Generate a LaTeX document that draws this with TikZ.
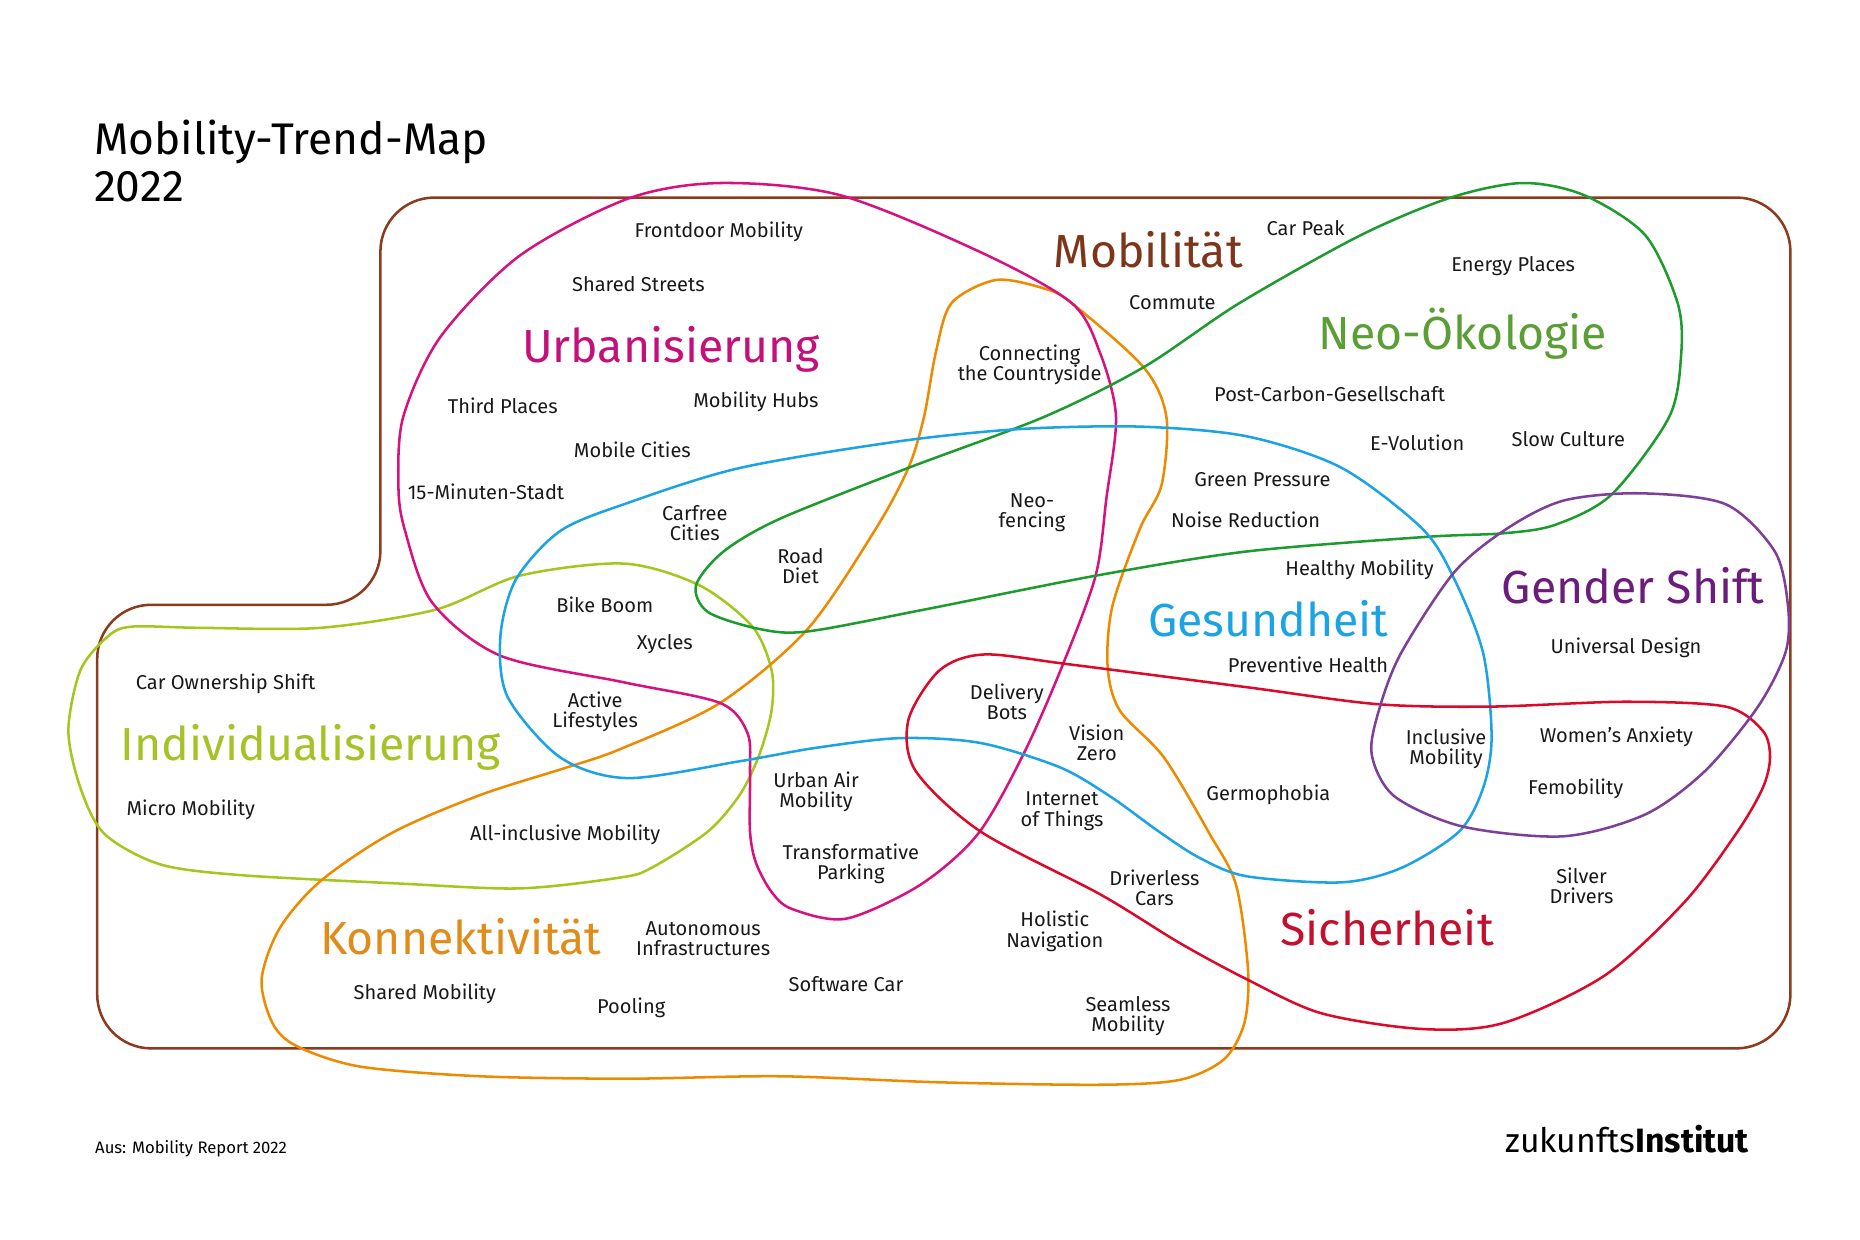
\documentclass[tikz,border=0pt]{standalone}
\usepackage{fontspec}
\setmainfont{Fira Sans}
\usepackage{tikz}

\definecolor{mobcol}{HTML}{8C3C1E}
\definecolor{urbcol}{HTML}{D6127F}
\definecolor{urbtxt}{HTML}{C4107A}
\definecolor{kontcol}{HTML}{EE8A00}
\definecolor{konttxt}{HTML}{E08C1A}
\definecolor{neocol}{HTML}{1E9B2E}
\definecolor{neotxt}{HTML}{5B9E35}
\definecolor{gescol}{HTML}{1BA3E3}
\definecolor{gentxt}{HTML}{6B1D7B}
\definecolor{gencol}{HTML}{7D3F98}
\definecolor{siccol}{HTML}{DC0A2A}
\definecolor{sictxt}{HTML}{C2112E}
\definecolor{indcol}{HTML}{A3C71E}
\definecolor{indtxt}{HTML}{A5C326}

\begin{document}
\begin{tikzpicture}[x=0.2mm, y=-0.2mm,
    ring/.style={line width=1.2pt},
    trend/.style={font=\fontsize{9.5}{9.6}\selectfont, align=center, inner sep=0pt, text=black!90},
    mega/.style={font=\fontsize{22}{22}\selectfont, inner sep=0pt, anchor=base}]
    \useasboundingbox (0,0) rectangle (1550,1033);
    % title and footer
    \node [anchor=base west, inner sep=0pt, font=\fontsize{21}{21}\selectfont] (title) at (78,129) {Mobility-Trend-Map};
    \node [anchor=base west, inner sep=0pt, font=\fontsize{21}{21}\selectfont] (year)  at (78,168) {2022};
    \node [anchor=base west, inner sep=0pt, font=\fontsize{7.9}{8}\selectfont]   (source) at (79,961) {Aus: Mobility Report 2022};
    \node [anchor=base east, inner sep=0pt, font=\fontsize{16}{16}\selectfont]   (logo)  at (1458,960) {zukunfts\textbf{Institut}};
    \begin{scope}[yscale=1.01]
    % Mobilitaet
    \draw [ring, mobcol, rounded corners=9mm] (700,865) -- (81,865) -- (81,499) -- (317,499)
        -- (317,163) -- (1492,163) -- (1492,865) -- cycle;
    % Individualisierung
    \draw [ring, indcol] plot [smooth cycle] coordinates {(90,525) (110,517) (167,518) (267,518)
        (363,503) (433,475) (520,465) (583,483) (627,517) (643,553) (643,586) (633,622) (617,655)
        (590,686) (543,716) (517,724) (433,733) (333,729) (200,722) (133,713) (87,688) (67,650)
        (57,603) (67,553)};
    % Konnektivitaet
    \draw [ring, kontcol] plot [smooth cycle] coordinates {(830,231) (870,238) (893,250) (953,303)
        (972,344) (968,400) (950,436) (927,500) (923,550) (933,586) (970,625) (1008,688) (1030,730)
        (1040,800) (1037,844) (1020,874) (983,891) (917,895) (783,893) (650,888) (523,890) (400,888)
        (300,880) (247,863) (227,844) (218,808) (233,766) (267,727) (327,687) (400,656) (473,633)
        (517,618) (600,580) (673,519) (730,436) (757,386) (770,344) (780,290) (793,250)};
    % Urbanisierung
    \draw [ring, urbcol] plot [smooth cycle] coordinates {(600,151) (700,161) (817,208) (893,250)
        (917,292) (930,344) (922,411) (913,475) (885,550) (853,622) (815,688) (767,730) (705,758)
        (660,750) (643,736) (630,712) (625,686) (625,638) (623,605) (600,580) (520,563) (417,541)
        (360,497) (337,436) (332,400) (336,344) (367,278) (433,211) (523,164)};
    % Neo-Oekologie
    \draw [ring, neocol] plot [smooth cycle] coordinates {(1269,151) (1320,161) (1371,194) (1398,250)
        (1401,292) (1391,344) (1343,408) (1296,433) (1253,440) (1188,443) (1039,455) (913,475)
        (770,503) (673,521) (633,519) (590,505) (580,483) (603,455) (650,428) (757,386) (870,344)
        (953,303) (1033,250) (1134,194) (1209,163)};
    % Gesundheit
    \draw [ring, gescol] plot [smooth cycle] coordinates {(523,415) (617,386) (750,364) (850,354)
        (950,352) (1039,360) (1118,386) (1185,436) (1212,478) (1236,539) (1243,608) (1236,650)
        (1216,686) (1168,716) (1118,728) (1039,723) (1000,708) (967,687) (925,657) (883,633)
        (817,613) (750,609) (680,617) (617,628) (523,642) (467,625) (423,575) (417,525) (430,478)
        (467,438)};
    % Sicherheit
    \draw [ring, siccol] plot [smooth cycle] coordinates {(820,540) (890,548) (1039,567) (1148,581)
        (1242,583) (1354,579) (1438,583) (1469,603) (1475,625) (1469,650) (1448,686) (1404,744)
        (1337,805) (1253,844) (1185,849) (1101,836) (1039,808) (983,778) (917,738) (817,686)
        (763,636) (757,594) (783,553)};
    % Gender Shift
    \draw [ring, gencol] plot [smooth cycle] coordinates {(1367,407) (1438,416) (1479,455) (1490,500)
        (1488,538) (1465,583) (1421,636) (1371,672) (1303,690) (1219,682) (1162,657) (1143,622)
        (1150,583) (1168,538) (1212,472) (1256,436) (1303,413)};
    \end{scope}
    % megatrends
    \node [mega, mobcol!90!black] (mobilitaet) at (957,223)  {Mobilität};
    \node [mega, urbtxt]          (urban)      at (559,302)  {Urbanisierung};
    \node [mega, neotxt]          (neooeko)    at (1219,291) {Neo-Ökologie};
    \node [mega, gescol]          (gesund)     at (1057,530) {Gesundheit};
    \node [mega, gentxt]          (gender)     at (1361,503) {Gender Shift};
    \node [mega, indtxt]          (indiv)      at (259,634)  {Individualisierung};
    \node [mega, konttxt]         (konnekt)    at (384,795)  {Konnektivität};
    \node [mega, sictxt]          (sicher)     at (1156,788) {Sicherheit};
    % trends
    \node [trend] (frontdoor)  at (599,193)  {Frontdoor Mobility};
    \node [trend] (sstreets)   at (532,237)  {Shared Streets};
    \node [trend] (third)      at (419,338)  {Third Places};
    \node [trend] (hubs)       at (630,335)  {Mobility Hubs};
    \node [trend] (mobcities)  at (527,375)  {Mobile Cities};
    \node [trend] (fifteen)    at (405,410)  {15-Minuten-Stadt};
    \node [trend] (carfree)    at (579,436)  {Carfree\\Cities};
    \node [trend] (roaddiet)   at (667,472)  {Road\\Diet};
    \node [trend] (neofence)   at (860,427)  {Neo-\\fencing};
    \node [trend] (country)    at (858,304)  {Connecting\\the Countryside};
    \node [trend] (carpeak)    at (1088,190) {Car Peak};
    \node [trend] (commute)    at (977,252)  {Commute};
    \node [trend] (energy)     at (1261,222) {Energy Places};
    \node [trend] (postcarbon) at (1108,328) {Post-Carbon-Gesellschaft};
    \node [trend] (evolution)  at (1181,369) {E-Volution};
    \node [trend] (slow)       at (1307,366) {Slow Culture};
    \node [trend] (green)      at (1052,400) {Green Pressure};
    \node [trend] (noise)      at (1038,433) {Noise Reduction};
    \node [trend] (healthy)    at (1133,475) {Healthy Mobility};
    \node [trend] (prevent)    at (1090,554) {Preventive Health};
    \node [trend] (universal)  at (1355,540) {Universal Design};
    \node [trend] (bikeboom)   at (504,504)  {Bike Boom};
    \node [trend] (xycles)     at (554,537)  {Xycles};
    \node [trend] (active)     at (496,593)  {Active\\Lifestyles};
    \node [trend] (ownership)  at (188,570)  {Car Ownership Shift};
    \node [trend] (micro)      at (159,675)  {Micro Mobility};
    \node [trend] (allincl)    at (471,696)  {All-inclusive Mobility};
    \node [trend] (urbanair)   at (680,660)  {Urban Air\\Mobility};
    \node [trend] (delivery)   at (839,585)  {Delivery\\Bots};
    \node [trend] (vision)     at (914,619)  {Vision\\Zero};
    \node [trend] (iot)        at (885,676)  {Internet\\of Things};
    \node [trend] (germo)      at (1057,662) {Germophobia};
    \node [trend] (inclusive)  at (1205,624) {Inclusive\\Mobility};
    \node [trend] (anxiety)    at (1347,614) {Women’s Anxiety};
    \node [trend] (femob)      at (1313,657) {Femobility};
    \node [trend] (silver)     at (1318,738) {Silver\\Drivers};
    \node [trend] (parking)    at (709,720)  {Transformative\\Parking};
    \node [trend] (driverless) at (962,740)  {Driverless\\Cars};
    \node [trend] (holistic)   at (879,776)  {Holistic\\Navigation};
    \node [trend] (autoinfra)  at (586,782)  {Autonomous\\Infrastructures};
    \node [trend] (sharedmob)  at (354,828)  {Shared Mobility};
    \node [trend] (pooling)    at (526,840)  {Pooling};
    \node [trend] (software)   at (705,820)  {Software Car};
    \node [trend] (seamless)   at (940,847)  {Seamless\\Mobility};
\end{tikzpicture}
\end{document}
